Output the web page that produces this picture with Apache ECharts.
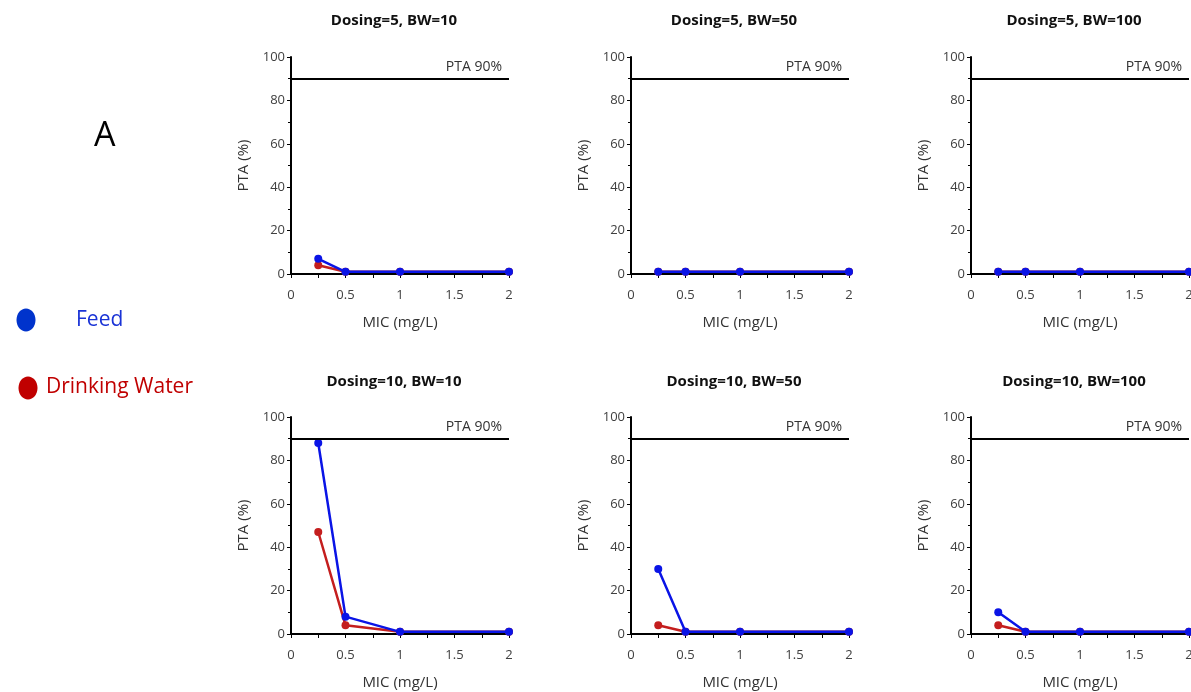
<!DOCTYPE html>
<html>
<head>
<meta charset="utf-8">
<script src="https://cdn.jsdelivr.net/npm/echarts@6/dist/echarts.min.js"></script>
<style>
html,body{margin:0;padding:0;background:#fff;}
#chart{width:1191px;height:692px;}
</style>
</head>
<body>
<div id="chart"></div>
<script>
// ---- data ----
const mic = [0.25, 0.5, 1, 2];
const panelTitles = [
  'Dosing=5, BW=10', 'Dosing=5, BW=50', 'Dosing=5, BW=100',
  'Dosing=10, BW=10', 'Dosing=10, BW=50', 'Dosing=10, BW=100'
];
const feedD5BW10 = [7, 1, 1, 1];
const waterD5BW10 = [4, 1, 1, 1];
const feedD5BW50 = [1, 1, 1, 1];
const waterD5BW50 = [1, 1, 1, 1];
const feedD5BW100 = [1, 1, 1, 1];
const waterD5BW100 = [1, 1, 1, 1];
const feedD10BW10 = [88, 8, 1, 1];
const waterD10BW10 = [47, 4, 1, 1];
const feedD10BW50 = [30, 1, 1, 1];
const waterD10BW50 = [4, 1, 1, 1];
const feedD10BW100 = [10, 1, 1, 1];
const waterD10BW100 = [4, 1, 1, 1];
const feedSets = [feedD5BW10, feedD5BW50, feedD5BW100, feedD10BW10, feedD10BW50, feedD10BW100];
const waterSets = [waterD5BW10, waterD5BW50, waterD5BW100, waterD10BW10, waterD10BW50, waterD10BW100];
const xTicks = [0, 0.5, 1, 1.5, 2];
const yTicks = [0, 20, 40, 60, 80, 100];
const ptaTarget = 90;
const seriesNames = ['Feed', 'Drinking Water'];

// ---- layout ----
const FONT = '"Open Sans", "Noto Sans", sans-serif';
const colLeft = [291, 631, 971];
const rowTop = [57, 417];
const gw = 218, gh = 217;
const titleCenter = [389, 729, 1069];
const titleY = [8, 369];
const BLUE = '#0a14e6';
const RED = '#c41e1e';

const grids = [], xAxes = [], yAxes = [], titles = [], series = [];
for (let i = 0; i < 6; i++) {
  const r = Math.floor(i / 3), c = i % 3;
  grids.push({left: colLeft[c], top: rowTop[r], width: gw, height: gh, containLabel: false, outerBoundsMode: 'none'});
  titles.push({
    text: panelTitles[i], left: titleCenter[c], top: titleY[r], textAlign: 'center',
    textStyle: {fontFamily: FONT, fontSize: 15, fontWeight: 'bold', color: '#111'}
  });
  xAxes.push({
    gridIndex: i, type: 'value', min: xTicks[0], max: xTicks[xTicks.length - 1], interval: 0.5,
    name: 'MIC (mg/L)', nameLocation: 'middle', nameGap: 41,
    nameTextStyle: {fontFamily: FONT, fontSize: 15, color: '#333'},
    axisLine: {show: true, onZero: false, lineStyle: {color: '#000', width: 2}},
    axisTick: {show: true, inside: false, length: 4, lineStyle: {color: '#000', width: 1}},
    minorTick: {show: true, splitNumber: 2, length: 4, lineStyle: {color: '#000', width: 1}},
    axisLabel: {fontFamily: FONT, fontSize: 13, color: '#404040', margin: 15},
    splitLine: {show: false}
  });
  yAxes.push({
    gridIndex: i, type: 'value', min: yTicks[0], max: yTicks[yTicks.length - 1], interval: 20,
    name: 'PTA (%)', nameLocation: 'middle', nameGap: 40,
    nameTextStyle: {fontFamily: FONT, fontSize: 15, color: '#333'},
    axisLine: {show: true, lineStyle: {color: '#000', width: 2}},
    axisTick: {show: true, inside: false, length: 4, lineStyle: {color: '#000', width: 1}},
    minorTick: {show: true, splitNumber: 2, length: 3, lineStyle: {color: '#000', width: 1}},
    axisLabel: {fontFamily: FONT, fontSize: 13, color: '#404040', margin: 6},
    splitLine: {show: false}
  });
  series.push({
    type: 'line', name: seriesNames[1], xAxisIndex: i, yAxisIndex: i,
    data: mic.map((m, k) => [m, waterSets[i][k]]),
    symbol: 'circle', symbolSize: 8,
    lineStyle: {color: RED, width: 2.5}, itemStyle: {color: RED},
    z: 2, animation: false
  });
  series.push({
    type: 'line', name: seriesNames[0], xAxisIndex: i, yAxisIndex: i,
    data: mic.map((m, k) => [m, feedSets[i][k]]),
    symbol: 'circle', symbolSize: 8,
    lineStyle: {color: BLUE, width: 2.5}, itemStyle: {color: BLUE},
    z: 3, animation: false,
    markLine: {
      silent: true, symbol: ['none', 'none'], animation: false,
      lineStyle: {color: '#000', width: 2, type: 'solid'},
      label: {show: true, position: 'insideEndTop', formatter: 'PTA 90%',
              fontFamily: FONT, fontSize: 14, color: '#333', distance: [7, 5]},
      data: [{yAxis: ptaTarget}]
    }
  });
}

const chart = echarts.init(document.getElementById('chart'), null, {renderer: 'canvas'});
chart.setOption({
  backgroundColor: '#fff',
  animation: false,
  title: titles,
  grid: grids,
  xAxis: xAxes,
  yAxis: yAxes,
  series: series,
  graphic: [
    {type: 'text', left: 94, top: 119, style: {text: 'A', font: '34px ' + FONT, fill: '#000'}},
    {type: 'ellipse', shape: {cx: 26, cy: 320, rx: 9.5, ry: 11.5}, style: {fill: '#0033cc'}},
    {type: 'text', left: 76, top: 310, style: {text: seriesNames[0], font: '21px ' + FONT, fill: '#1a33d6'}},
    {type: 'ellipse', shape: {cx: 28, cy: 388, rx: 9.5, ry: 11.5}, style: {fill: '#c00000'}},
    {type: 'text', left: 46, top: 377, style: {text: seriesNames[1], font: '21px ' + FONT, fill: '#c00000'}}
  ]
});
</script>
</body>
</html>
